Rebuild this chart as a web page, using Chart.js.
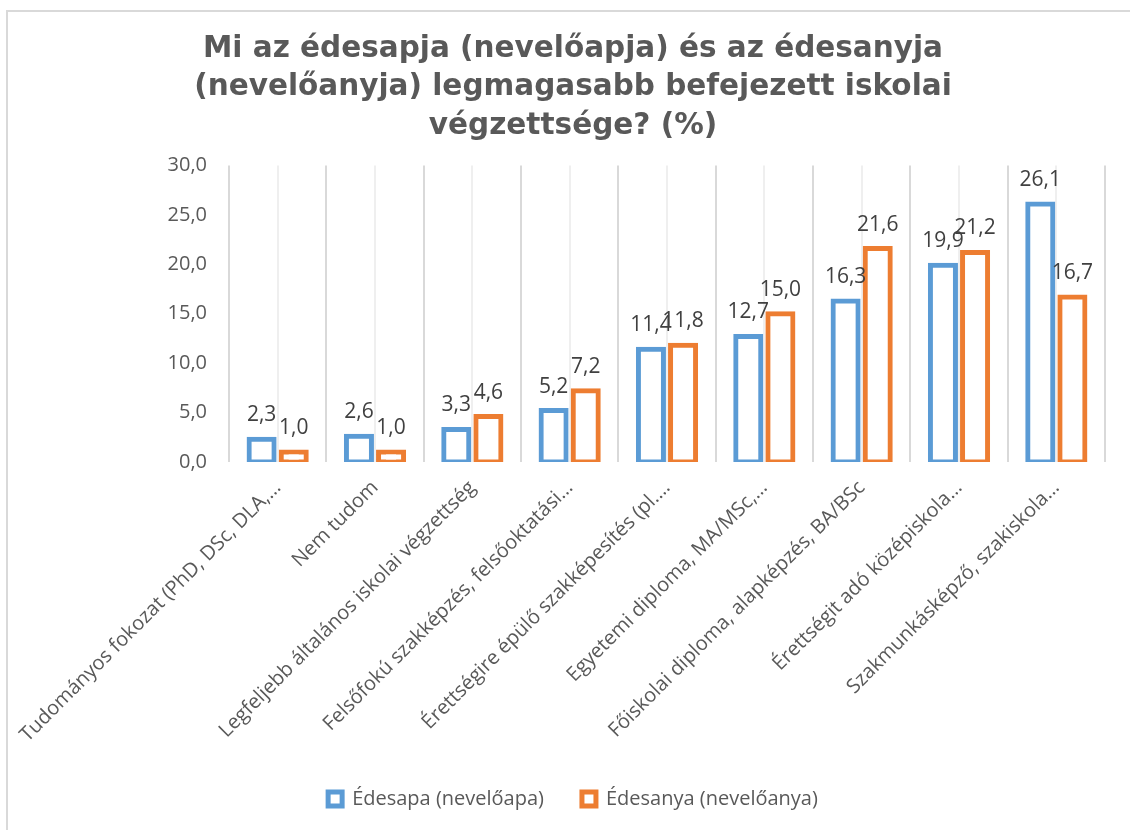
<!DOCTYPE html>
<html>
<head>
<meta charset="utf-8">
<script src="https://cdn.jsdelivr.net/npm/chart.js@4.4.1/dist/chart.umd.min.js"></script>
<style>
  html, body { margin: 0; padding: 0; background: #ffffff; overflow: hidden; width: 1130px; height: 830px; }
  #wrap { position: absolute; left: 6px; top: 10px; width: 1140px; height: 850px; border: 2px solid #d9d9d9; background: #ffffff; }
  canvas { display: block; }
</style>
</head>
<body>
<div id="wrap"><canvas id="eduChart" width="1130" height="850"></canvas></div>
<script>
// Chart data
const categories = [
    'Tudományos fokozat (PhD, DSc, DLA,…',
    'Nem tudom',
    'Legfeljebb általános iskolai végzettség',
    'Felsőfokú szakképzés, felsőoktatási…',
    'Érettségire épülő szakképesítés (pl.…',
    'Egyetemi diploma, MA/MSc,…',
    'Főiskolai diploma, alapképzés, BA/BSc',
    'Érettségit adó középiskola…',
    'Szakmunkásképző, szakiskola…'
];
const fatherValues = [2.3, 2.6, 3.3, 5.2, 11.4, 12.7, 16.3, 19.9, 26.1];
const motherValues = [1.0, 1.0, 4.6, 7.2, 11.8, 15.0, 21.6, 21.2, 16.7];
const seriesNames = ['Édesapa (nevelőapa)', 'Édesanya (nevelőanya)'];
const titleLines = [
    'Mi az édesapja (nevelőapja) és az édesanyja',
    '(nevelőanyja) legmagasabb befejezett iskolai',
    'végzettsége? (%)'
];

const fmt = v => v.toFixed(1).replace('.', ',');

// Light gridline in the middle of every category
const minorGrid = {
    id: 'minorGrid',
    beforeDatasetsDraw(chart) {
        const { ctx, chartArea, scales } = chart;
        ctx.save();
        ctx.strokeStyle = '#efefef';
        ctx.lineWidth = 2;
        categories.forEach((c, i) => {
            const x = Math.round(scales.x.getPixelForValue(i));
            ctx.beginPath();
            ctx.moveTo(x, chartArea.top);
            ctx.lineTo(x, chartArea.bottom);
            ctx.stroke();
        });
        ctx.restore();
    }
};

// Value labels above the bars
const valueLabels = {
    id: 'valueLabels',
    afterDatasetsDraw(chart) {
        const { ctx } = chart;
        ctx.save();
        ctx.font = '21px "Open Sans"';
        ctx.fillStyle = '#404040';
        ctx.textAlign = 'center';
        ctx.textBaseline = 'alphabetic';
        chart.data.datasets.forEach((ds, di) => {
            chart.getDatasetMeta(di).data.forEach((bar, i) => {
                ctx.fillText(fmt(ds.data[i]), bar.x, bar.y - 18);
            });
        });
        ctx.restore();
    }
};

new Chart(document.getElementById('eduChart'), {
    type: 'bar',
    data: {
        labels: categories,
        datasets: [{
            label: seriesNames[0],
            data: fatherValues,
            backgroundColor: '#ffffff',
            borderColor: '#5b9bd5',
            borderWidth: 5,
            borderSkipped: false,
            inflateAmount: 2.5
        }, {
            label: seriesNames[1],
            data: motherValues,
            backgroundColor: '#ffffff',
            borderColor: '#ed7d31',
            borderWidth: 5,
            borderSkipped: false,
            inflateAmount: 2.5
        }]
    },
    options: {
        responsive: false,
        animation: false,
        devicePixelRatio: 1,
        categoryPercentage: 0.66,
        barPercentage: 0.78,
        layout: { padding: { left: 0, right: 0, top: 0, bottom: 43 } },
        scales: {
            x: {
                grid: { color: '#d9d9d9', lineWidth: 2, drawTicks: false },
                border: { display: false },
                ticks: {
                    color: '#595959',
                    font: { family: '"Open Sans"', size: 20 },
                    minRotation: 45,
                    maxRotation: 45,
                    autoSkip: false,
                    padding: 14
                },
                afterFit: s => { s.height = 289; s.paddingLeft = 0; s.paddingRight = 33; }
            },
            y: {
                min: 0,
                max: 30,
                grid: { display: false, drawTicks: false },
                border: { display: false },
                ticks: {
                    stepSize: 5,
                    color: '#595959',
                    font: { family: '"Open Sans"', size: 20 },
                    padding: 22,
                    callback: v => fmt(v)
                },
                afterFit: s => { s.width = 221; }
            }
        },
        plugins: {
            title: {
                display: true,
                text: titleLines,
                color: '#595959',
                font: { family: '"DejaVu Sans"', size: 29.5, weight: 'bold', lineHeight: 1.305 },
                padding: { top: 18, bottom: 20 }
            },
            legend: {
                position: 'bottom',
                labels: {
                    color: '#595959',
                    font: { family: '"Open Sans"', size: 20 },
                    boxWidth: 14,
                    boxHeight: 14,
                    padding: 38
                }
            },
            tooltip: { enabled: false }
        }
    },
    plugins: [minorGrid, valueLabels]
});
</script>
</body>
</html>
